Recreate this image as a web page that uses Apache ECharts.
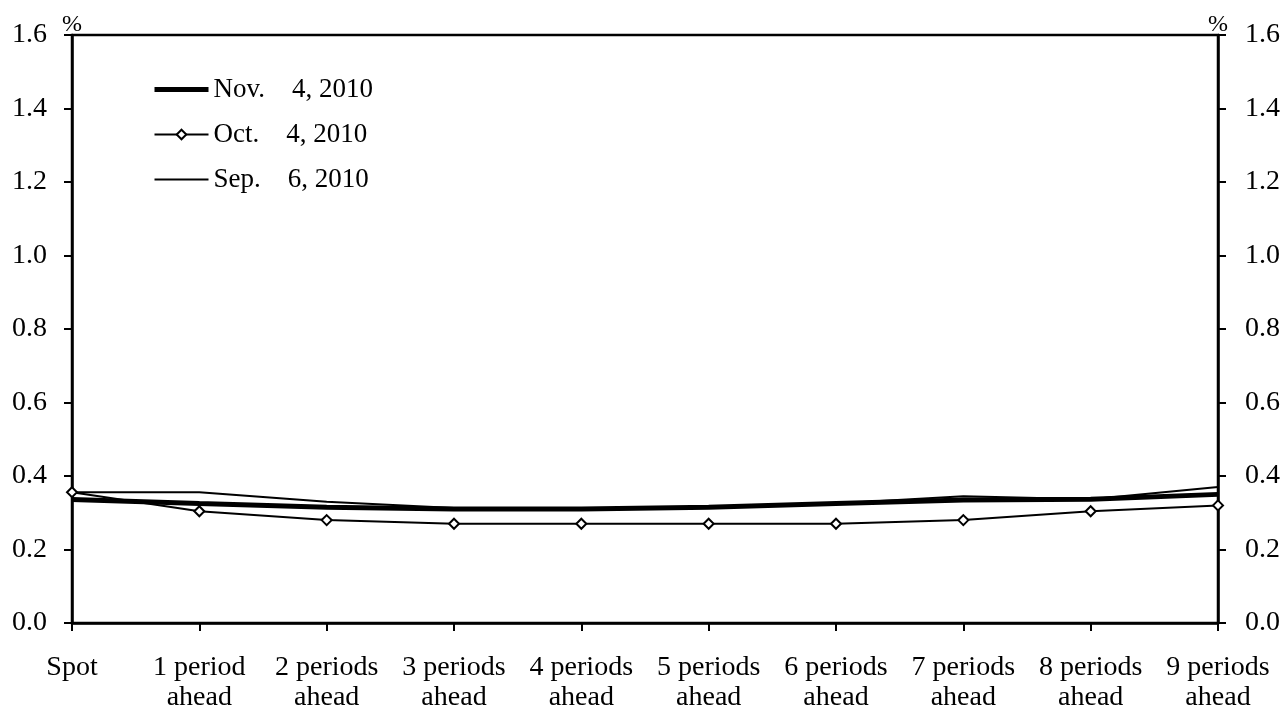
<!DOCTYPE html>
<html>
<head>
<meta charset="utf-8">
<script src="https://cdn.jsdelivr.net/npm/echarts@6/dist/echarts.min.js"></script>
<style>html,body{margin:0;padding:0;background:#fff}#c{width:1284px;height:713px}</style>
</head>
<body>
<div id="c"></div>
<script>
const categories = ['Spot', '1 period\nahead', '2 periods\nahead', '3 periods\nahead', '4 periods\nahead', '5 periods\nahead', '6 periods\nahead', '7 periods\nahead', '8 periods\nahead', '9 periods\nahead'];
const nov4 = [0.336, 0.325, 0.315, 0.310, 0.310, 0.315, 0.325, 0.335, 0.337, 0.350];
const oct4 = [0.356, 0.304, 0.280, 0.270, 0.270, 0.270, 0.270, 0.280, 0.304, 0.320];
const sep6 = [0.356, 0.356, 0.330, 0.313, 0.310, 0.315, 0.325, 0.345, 0.337, 0.370];
const seriesNames = ['Nov.    4, 2010', 'Oct.    4, 2010', 'Sep.    6, 2010'];
const yTicks = { min: 0, max: 1.6, interval: 0.2 };

const font = 'Liberation Serif';
const chart = echarts.init(document.getElementById('c'), null, { renderer: 'canvas' });
const yAxisCommon = {
  type: 'value', min: yTicks.min, max: yTicks.max, interval: yTicks.interval,
  name: '%', nameLocation: 'end', nameGap: -2,
  nameTextStyle: { fontFamily: font, fontSize: 24, color: '#000' },
  axisLine: { show: true, lineStyle: { color: '#000', width: 2.5 } },
  axisTick: { show: true, inside: false, length: 8, lineStyle: { color: '#000', width: 2 } },
  axisLabel: { fontFamily: font, fontSize: 28, color: '#000', formatter: v => v.toFixed(1) },
  splitLine: { show: false }
};
const hidden = { opacity: 0, color: 'rgba(0,0,0,0)', borderWidth: 0 };
chart.setOption({
  animation: false,
  backgroundColor: '#fff',
  grid: { left: 72, right: 66, top: 35, bottom: 89, show: true, borderColor: '#000', borderWidth: 2.5 },
  legend: {
    orient: 'vertical', left: 147, top: 71, itemWidth: 54, itemHeight: 12, itemGap: 18,
    textStyle: { fontFamily: font, fontSize: 27, color: '#000' },
    data: [
      { name: seriesNames[0], itemStyle: hidden, lineStyle: { width: 5, color: '#000' } },
      { name: seriesNames[1], lineStyle: { width: 2, color: '#000' } },
      { name: seriesNames[2], itemStyle: hidden, lineStyle: { width: 2, color: '#000' } }
    ]
  },
  xAxis: {
    type: 'category', data: categories, boundaryGap: false,
    axisLine: { lineStyle: { color: '#000', width: 2.5 } },
    axisTick: { show: true, length: 8, alignWithLabel: true, lineStyle: { color: '#000', width: 2 } },
    axisLabel: { fontFamily: font, fontSize: 28, color: '#000', margin: 30, lineHeight: 30, interval: 0 }
  },
  yAxis: [
    Object.assign({}, yAxisCommon, { position: 'left', axisLabel: Object.assign({}, yAxisCommon.axisLabel, { margin: 25 }) }),
    Object.assign({}, yAxisCommon, { position: 'right', axisLabel: Object.assign({}, yAxisCommon.axisLabel, { margin: 27 }) })
  ],
  series: [
    { name: seriesNames[0], type: 'line', data: nov4, symbol: 'none', lineStyle: { color: '#000', width: 5 }, itemStyle: { color: '#000' }, z: 3 },
    { name: seriesNames[1], type: 'line', data: oct4, symbol: 'diamond', symbolSize: 10, lineStyle: { color: '#000', width: 2 }, itemStyle: { color: '#fff', borderColor: '#000', borderWidth: 2 }, z: 4 },
    { name: seriesNames[2], type: 'line', data: sep6, symbol: 'none', lineStyle: { color: '#000', width: 2 }, itemStyle: { color: '#000' }, z: 2 }
  ]
});
</script>
</body>
</html>
